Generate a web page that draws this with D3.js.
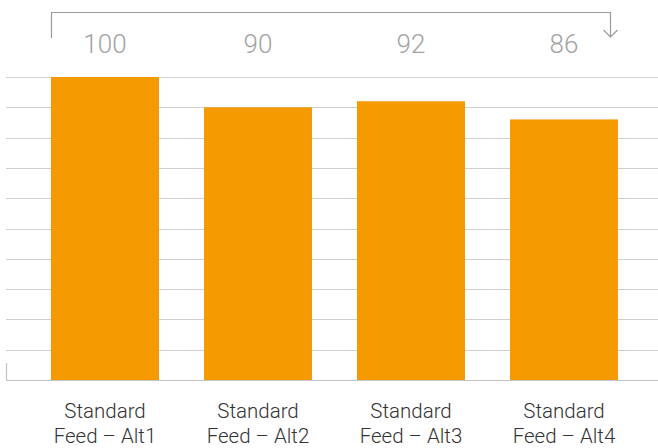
<!DOCTYPE html>
<html>
<head>
<meta charset="utf-8">
<script src="https://cdn.jsdelivr.net/npm/d3@7"></script>
<style>
  body { margin: 0; background: #fff; }
</style>
</head>
<body>
<div id="chart-area"></div>
<script>
// Data
// ****
const categories = ["Standard|Feed – Alt1", "Standard|Feed – Alt2", "Standard|Feed – Alt3", "Standard|Feed – Alt4"]
const values = [100, 90, 92, 86]
const yTicks = [0, 10, 20, 30, 40, 50, 60, 70, 80, 90, 100]

// Config
// ******
const width = 658, height = 448
const plotTop = 77, plotBottom = 380, plotLeft = 6, plotRight = 663
const barColor = "#f59a00", gridColor = "#d0d0d0"

const svg = d3.select("#chart-area")
  .append("svg")
    .attr("width", width)
    .attr("height", height)

// Scales
const x = d3.scaleBand().domain(categories).range([plotLeft, plotRight])
  .paddingInner(0.294).paddingOuter(0.294)
const y = d3.scaleLinear().domain([0, 100]).range([plotBottom, plotTop])

// Gridlines
svg.append("g")
  .selectAll("line").data(yTicks).enter()
  .append("line")
    .attr("x1", plotLeft).attr("x2", width)
    .attr("y1", d => Math.round(y(d)) + 0.5)
    .attr("y2", d => Math.round(y(d)) + 0.5)
    .attr("stroke", d => d === 0 ? "#c4c4c4" : gridColor)
    .attr("stroke-width", 1.2)

// Small left tick
svg.append("line")
  .attr("x1", plotLeft + 0.5).attr("x2", plotLeft + 0.5)
  .attr("y1", 363).attr("y2", y(0))
  .attr("stroke", "#c4c4c4").attr("stroke-width", 1.2)

// Bars
svg.append("g")
  .selectAll("rect").data(values).enter()
  .append("rect")
    .attr("x", (d, i) => x(categories[i]))
    .attr("y", d => y(d))
    .attr("width", x.bandwidth())
    .attr("height", d => y(0) - y(d))
    .attr("fill", barColor)

// Value labels
svg.append("g")
  .selectAll("text").data(values).enter()
  .append("text")
    .attr("x", (d, i) => x(categories[i]) + x.bandwidth() / 2)
    .attr("y", 53)
    .attr("text-anchor", "middle")
    .attr("font-family", "Roboto, 'Liberation Sans', sans-serif")
    .attr("font-weight", 300)
    .attr("font-size", "26px")
    .attr("fill", "#a3a3a3")
    .text(d => d)

// Category labels
const cat = svg.append("g")
  .selectAll("text").data(categories).enter()
  .append("text")
    .attr("x", d => x(d) + x.bandwidth() / 2)
    .attr("y", 418)
    .attr("text-anchor", "middle")
    .attr("font-family", "Roboto, 'Liberation Sans', sans-serif")
    .attr("font-weight", 300)
    .attr("font-size", "20.5px")
    .attr("fill", "#333")
cat.append("tspan").attr("x", d => x(d) + x.bandwidth() / 2).text(d => d.split("|")[0])
cat.append("tspan").attr("x", d => x(d) + x.bandwidth() / 2).attr("dy", 25).text(d => d.split("|")[1])

// Bracket with arrow
const bx0 = x(categories[0]) + 0.5, bx1 = 610.5
svg.append("path")
  .attr("d", `M${bx0},38 V12.5 H${bx1} V37`)
  .attr("fill", "none").attr("stroke", "#9a9a9a").attr("stroke-width", 1.2)
svg.append("path")
  .attr("d", `M${bx1 - 7},30 L${bx1},37 L${bx1 + 7},30`)
  .attr("fill", "none").attr("stroke", "#9a9a9a").attr("stroke-width", 1.2)
</script>
</body>
</html>
